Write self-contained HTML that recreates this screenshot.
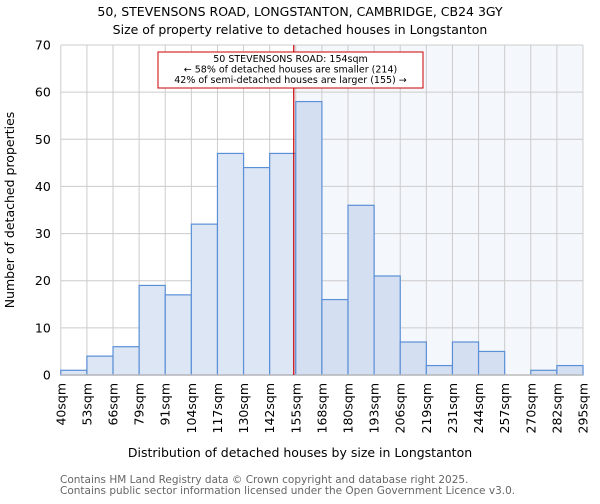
<!DOCTYPE html>
<html><head><meta charset="utf-8"><style>
body{margin:0;background:#fff;font-family:"DejaVu Sans","Liberation Sans",sans-serif}
</style></head><body>
<svg id="c" width="600" height="500" xmlns="http://www.w3.org/2000/svg" font-family="DejaVu Sans, Liberation Sans, sans-serif">
<text x="300" y="16" text-anchor="middle" font-size="12.5">50, STEVENSONS ROAD, LONGSTANTON, CAMBRIDGE, CB24 3GY</text>
<text x="300" y="34" text-anchor="middle" font-size="12.5">Size of property relative to detached houses in Longstanton</text>
<g id="plot"></g>
<text x="300" y="457" text-anchor="middle" font-size="12.5">Distribution of detached houses by size in Longstanton</text>
<text transform="translate(14,210) rotate(-90)" text-anchor="middle" font-size="12.5">Number of detached properties</text>
<text x="60" y="483" font-size="10.5" fill="#666">Contains HM Land Registry data © Crown copyright and database right 2025.</text>
<text x="60" y="494" font-size="10.5" fill="#666">Contains public sector information licensed under the Open Government Licence v3.0.</text>
</svg>
<script>
const binLabels=["40sqm","53sqm","66sqm","79sqm","91sqm","104sqm","117sqm","130sqm","142sqm","155sqm","168sqm","180sqm","193sqm","206sqm","219sqm","231sqm","244sqm","257sqm","270sqm","282sqm","295sqm"];
const counts=[1,4,6,19,17,32,47,44,47,58,16,36,21,7,2,7,5,0,1,2];
const yTicks=[0,10,20,30,40,50,60,70];
const subjectSize=154;
const sizeMin=40, sizeMax=295;
const X0=60.8,X1=583,Y0=375,Y1=45,YMAX=70;
const NS="http://www.w3.org/2000/svg";
const g=document.getElementById('plot');
const bw=(X1-X0)/counts.length;
const xb=i=>X0+i*bw;
const xs=v=>X0+(v-sizeMin)/(sizeMax-sizeMin)*(X1-X0);
const ys=v=>Y0-v/YMAX*(Y0-Y1);
function mk(t,a){const e=document.createElementNS(NS,t);for(const k in a)e.setAttribute(k,a[k]);g.appendChild(e);return e;}
const lx=xs(subjectSize)-0.5;
let bg=mk('rect',{x:lx,y:Y1,width:X1-lx,height:Y0-Y1,fill:'#f4f7fc'});


yTicks.forEach(t=>{
 let l=mk('line',{x1:X0,x2:X1,y1:ys(t),y2:ys(t),stroke:'#cccccc'});
 
 
 let tx=mk('text',{x:X0-10,y:ys(t)+4.5,'text-anchor':'end','font-size':12.5});
 tx.textContent=t;
 
 
});
binLabels.forEach((lab,i)=>{
 let l=mk('line',{x1:xb(i),x2:xb(i),y1:Y1,y2:Y0,stroke:'#cccccc'});
 
 
 let tx=mk('text',{transform:`translate(${xb(i)+4.5},${Y0+8}) rotate(-90)`,'text-anchor':'end','font-size':12.5});
 tx.textContent=lab;
 
 
});
counts.forEach((c,i)=>{
 if(c<=0)return;
 const right=xb(i)>=lx;
 let r=mk('rect',{x:xb(i),y:ys(c),width:bw,height:Y0-ys(c),fill:right?'#d5dff2':'#dde6f4',stroke:'#5b8fd6','stroke-width':1.2});
 
 
});
let ax=mk('line',{x1:X0,x2:X1,y1:Y0,y2:Y0,stroke:'#bbbbbb','stroke-width':1.5});


let rl=mk('line',{x1:lx,x2:lx,y1:Y1,y2:Y0,stroke:'#cc0000','stroke-width':1.2});


let box=mk('rect',{x:158,y:52,width:265,height:36,fill:'#fff',stroke:'#cc0000','stroke-width':1});


["50 STEVENSONS ROAD: 154sqm","← 58% of detached houses are smaller (214)","42% of semi-detached houses are larger (155) →"].forEach((s,i)=>{
 let t=mk('text',{x:290.5,y:62+i*10.5,'text-anchor':'middle','font-size':9.5});
 t.textContent=s;
 
 
});
</script>
</body></html>
